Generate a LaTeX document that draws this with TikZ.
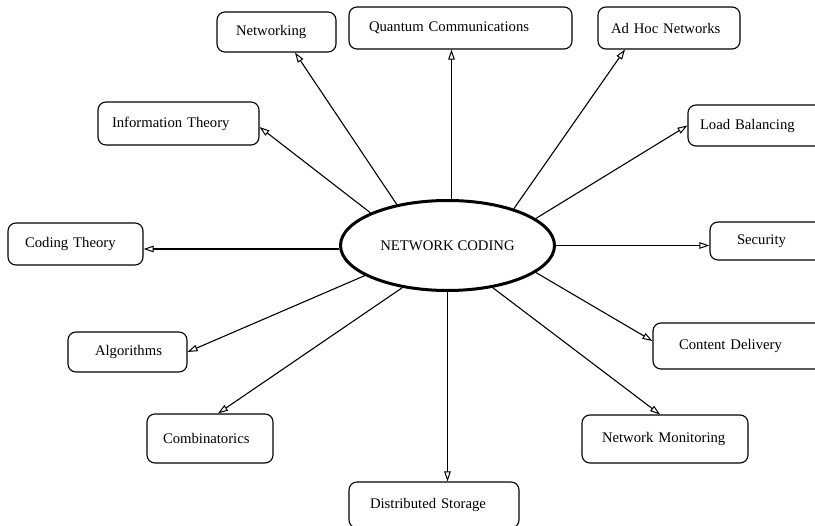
\documentclass[tikz,border=0pt]{standalone}
\usepackage{fontspec}
\setmainfont{Liberation Serif}
\usetikzlibrary{shapes.geometric,arrows.meta}
\begin{document}
\begin{tikzpicture}[x=1pt,y=-1pt,
  font=\fontsize{14.7}{17}\selectfont,
  box/.style={draw, line width=1.1pt, rounded corners=8pt, align=left, inner ysep=0pt},
  hub/.style={draw, ellipse, line width=3pt, minimum width=214pt, minimum height=90pt, inner sep=0pt},
  arr/.style={line width=1.1pt, -{Triangle[open, length=10pt, width=6.5pt, line width=1pt]}}]
\useasboundingbox (0,0) rectangle (815,526);

\node[hub] (nc) at (447.5,245.5) {NETWORK CODING};

\node[box, minimum height=40pt, text width=81pt, inner xsep=19pt] (nw) at (276.5,32) {Networking};
\node[box, minimum height=42pt, text width=183pt, inner xsep=20pt] (qc) at (460.5,28) {Quantum Communications};
\node[box, minimum height=42pt, text width=116pt, inner xsep=13pt] (ah) at (669,28) {Ad Hoc Networks};
\node[box, minimum height=43pt, text width=133pt, inner xsep=14pt] (it) at (178.5,123.5) {Information Theory};
\node[box, minimum height=41pt, text width=118pt, inner xsep=12pt] (lb) at (759,125.5) {Load Balancing};
\node[box, minimum height=42pt, text width=101pt, inner xsep=17pt] (ct) at (75.5,244) {Coding Theory};
\node[box, minimum height=38pt, text width=66pt, inner xsep=27pt] (sec) at (770,241) {Security};
\node[box, minimum height=40pt, text width=65pt, inner xsep=27pt] (al) at (127.5,352) {Algorithms};
\node[box, minimum height=46pt, text width=125pt, inner xsep=26pt] (cd) at (741.5,346) {Content Delivery};
\node[box, minimum height=49pt, text width=94pt, inner xsep=16pt] (cb) at (210,438.5) {Combinatorics};
\node[box, minimum height=48pt, text width=126pt, inner xsep=20pt] (nm) at (665,439) {Network Monitoring};
\node[box, minimum height=46pt, text width=128pt, inner xsep=21pt] (ds) at (434,505) {Distributed Storage};

\draw[arr] (nc.141.7) -- ([xshift=18.5pt]nw.south);
\draw[arr] ([xshift=4pt]nc.north) -- ([xshift=4pt]nc.north |- qc.south);
\draw[arr] (nc.29.3) -- ([xshift=-44pt]ah.south);
\draw[arr] (nc.157.7) -- ([yshift=-3.5pt]it.east);
\draw[arr] (nc.17.1) -- (lb.west);
\draw[arr] ([yshift=-3.5pt]nc.west) -- ([yshift=-3.5pt]nc.west -| ct.east);
\draw[arr] (nc.east) -- (nc.east -| sec.west);
\draw[arr] (nc.200.4) -- (al.east);
\draw[arr] (nc.-17.4) -- ([yshift=5pt]cd.west);
\draw[arr] (nc.223) -- ([xshift=8pt]cb.north);
\draw[arr] (nc.-43) -- ([xshift=-5pt]nm.north);
\draw[arr] (nc.south) -- (nc.south |- ds.north);
\end{tikzpicture}
\end{document}
